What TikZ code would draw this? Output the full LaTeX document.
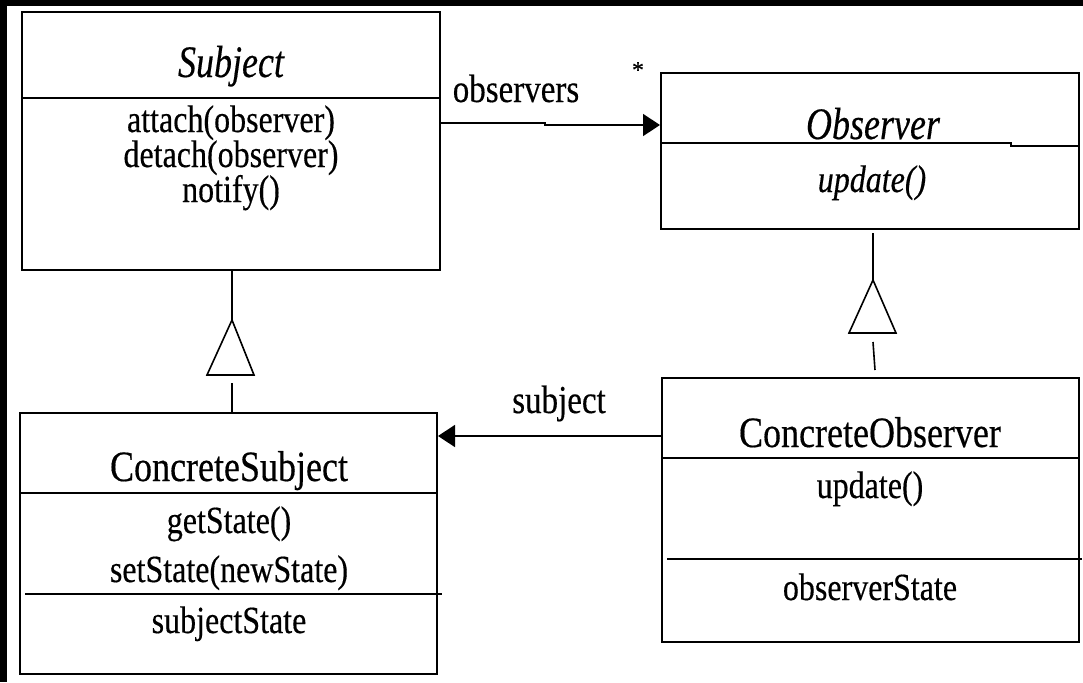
\documentclass[tikz,border=0pt]{standalone}
\usepackage{fontspec}
\usepackage{graphicx}
\setmainfont{Liberation Serif}[FakeBold=0.4]
\usetikzlibrary{arrows.meta}
% tall, narrow lettering of the class diagram
\newcommand\tx[1]{\scalebox{1}[1.2]{#1}}
\begin{document}
\begin{tikzpicture}[x=0.5pt,y=-0.5pt,
  classbox/.style={draw, line width=1pt, rectangle, inner sep=0pt},
  sep/.style={line width=1pt},
  link/.style={line width=0.8pt},
  head/.style={-{Triangle[length=8.5pt,width=11pt]}},
  gen/.style={line width=0.8pt},
  cname/.style={anchor=base, inner sep=0pt, font=\fontsize{18}{21}\selectfont},
  member/.style={anchor=base, inner sep=0pt, font=\fontsize{16}{19}\selectfont},
  role/.style={anchor=base, inner sep=0pt, font=\fontsize{16.5}{19}\selectfont}]
\useasboundingbox (0,0) rectangle (1083,682);
% frame
\fill[black] (0,0) rectangle (1083,682);
\fill[white] (7,6) rectangle (1083,682);

% class boxes
\node[classbox, minimum width=209pt, minimum height=129pt] (subj) at (231,141) {};
\node[classbox, minimum width=209pt, minimum height=78pt] (obs) at (870,151) {};
\node[classbox, minimum width=208.5pt, minimum height=130.5pt] (csubj) at (228.5,543.5) {};
\node[classbox, minimum width=208.5pt, minimum height=132pt] (cobs) at (870.5,510) {};

% compartment separators
\draw[sep] (subj.west |- 0,98) -- (subj.east |- 0,98);
\draw[sep] (obs.west |- 0,143) -- (1011,143) -- (1011,146) -- (obs.east |- 0,146);
\draw[sep] (csubj.west |- 0,493) -- (csubj.east |- 0,493);
\draw[sep] (25,594) -- (442,594);
\draw[sep] (cobs.west |- 0,458) -- (cobs.east |- 0,458);
\draw[sep] (667,559) -- (1082,559);

% Subject
\node[cname, font=\fontsize{18}{21}\selectfont\itshape] (tsubj) at (231,77) {\scalebox{1}[1.25]{Subject}};
\node[member] (m1) at (231,132) {\tx{attach(observer)}};
\node[member] (m2) at (231,167) {\tx{detach(observer)}};
\node[member] (m3) at (231,202) {\tx{notify()}};

% Observer
\node[cname, font=\fontsize{18}{21}\selectfont\itshape] (tobs) at (873,139) {\scalebox{1}[1.25]{Observer}};
\node[member, font=\fontsize{16}{19}\selectfont\itshape] (m4) at (872,192) {\tx{update()}};

% ConcreteSubject
\node[cname] (tcsubj) at (229,481) {\tx{ConcreteSubject}};
\node[member] (m5) at (229,533) {\tx{getState()}};
\node[member] (m6) at (229,582) {\tx{setState(newState)}};
\node[member] (m7) at (229,633) {\tx{subjectState}};

% ConcreteObserver
\node[cname] (tcobs) at (870,447) {\tx{ConcreteObserver}};
\node[member] (m8) at (870,498) {\tx{update()}};
\node[member] (m9) at (870,600) {\tx{observerState}};

% association: Subject -> Observer
\coordinate (bend1) at (545,123);
\coordinate (bend2) at (545,125);
\draw[link, head] (subj.east |- bend1) -- (bend1) -- (bend2) -- (obs.west |- bend2);
\node[role] (lobs) at (516,102) {\tx{observers}};
\node[anchor=center, inner sep=0pt, font=\fontsize{12}{14}\selectfont] (mult) at (638,70) {*};

% association: ConcreteObserver -> ConcreteSubject
\coordinate (sub) at (0,436);
\draw[link, head] (cobs.west |- sub) -- (csubj.east |- sub);
\node[role] (lsub) at (559,413) {\tx{subject}};

% generalization: ConcreteSubject -> Subject
\coordinate (g1apex) at (232,320);
\coordinate (g1tail) at (232,383);
\draw[gen] (subj.south -| g1apex) -- (g1apex);
\draw[gen] (g1apex) -- (254,375) -- (207,375) -- cycle;
\draw[gen] (207,375) -- (254,375);
\draw[gen] (g1tail) -- (csubj.north -| g1tail);

% generalization: ConcreteObserver -> Observer
\coordinate (g2top) at (873,233);
\coordinate (g2apex) at (873,280);
\coordinate (g2tail) at (873,342);
\coordinate (g2end) at (875,370);
\draw[gen] (g2top) -- (g2apex);
\draw[gen] (g2apex) -- (896,333) -- (849,333) -- cycle;
\draw[gen] (g2tail) -- (g2end);
\end{tikzpicture}
\end{document}
